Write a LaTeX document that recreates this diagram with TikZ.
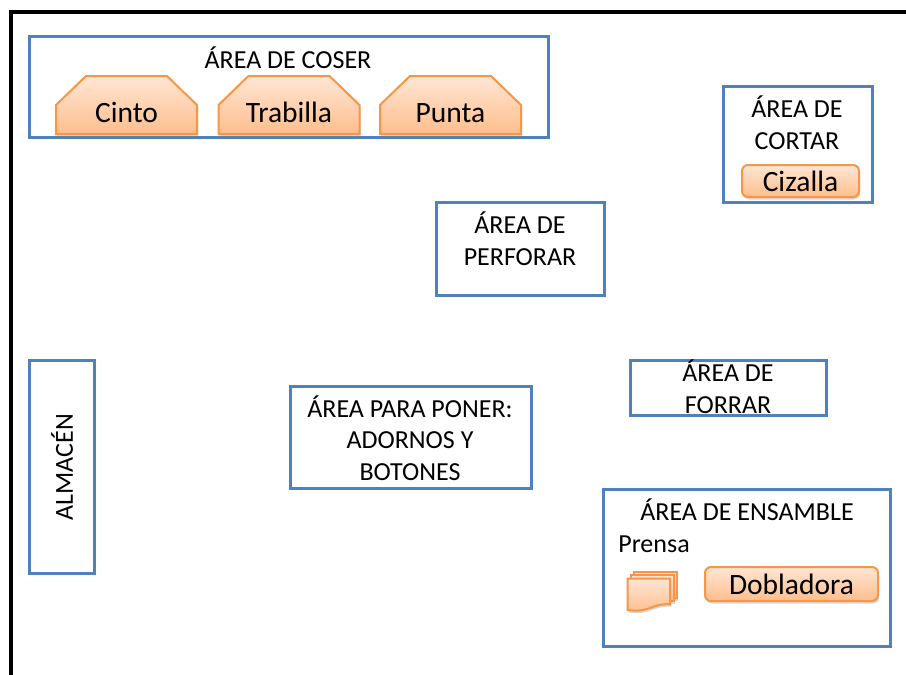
\documentclass[tikz,border=0pt]{standalone}
\usepackage{fontspec}
\setmainfont{Carlito}
\usetikzlibrary{shadows}
\definecolor{areablue}{HTML}{4F81BD}
\definecolor{machedge}{HTML}{F79646}
\definecolor{machtop}{HTML}{FFE6D4}
\definecolor{machbot}{HTML}{FDBE8C}
\tikzset{
  area/.style={draw=areablue,line width=3pt,fill=white,rectangle,align=center,inner sep=0pt,
    font=\fontsize{26}{31.5}\selectfont},
  areatext/.style={align=center,inner sep=0pt,font=\fontsize{26}{31.5}\selectfont},
  machtext/.style={inner sep=0pt,font=\fontsize{29.5}{31}\selectfont},
  mach/.style={draw=machedge,line width=2pt,top color=machtop,bottom color=machbot,
    drop shadow={shadow xshift=1pt,shadow yshift=-2.5pt,opacity=.3}},
  button/.style={mach,machtext,rectangle,rounded corners=6pt},
}
\begin{document}
\begin{tikzpicture}[x=1pt,y=-1pt]
  \useasboundingbox (0,0) rectangle (906,675);

  \coordinate (fa) at (11,675);
  \coordinate (fb) at (11,12);
  \coordinate (fc) at (906,12);
  \draw[line width=3.6pt,line join=miter] (fa) -- (fb) -- (fc);

  % areas
  \begin{scope}[every node/.style={area}]
    \node[minimum width=519pt,minimum height=101pt] (coser)    at (288.5,86.5) {};
    \node[minimum width=149pt,minimum height=116pt] (cortar)   at (797.5,144) {};
    \node[minimum width=168pt,minimum height=93pt]  (perforar) at (520,248.5) {};
    \node[minimum width=65pt,minimum height=213pt]  (almacen)  at (61.5,466.5) {};
    \node[minimum width=241pt,minimum height=102pt] (poner)    at (410.5,437) {};
    \node[minimum width=196pt,minimum height=55pt]  (forrar)   at (728,387.5) {};
    \node[minimum width=287pt,minimum height=157pt] (ensamble) at (746.5,567.5) {};
  \end{scope}

  \node[areatext] (coserlbl)    at (288,58)    {ÁREA DE COSER};
  \node[areatext] (cortarlbl)   at (797,122.5) {ÁREA DE\\CORTAR};
  \node[areatext] (perforarlbl) at (520,238.5) {ÁREA DE\\PERFORAR};
  \node[areatext,rotate=90] (almacenlbl) at (62,467) {ALMACÉN};
  \node[areatext] (ponerlbl)    at (410,438)   {ÁREA PARA PONER:\\ADORNOS Y\\BOTONES};
  \node[areatext] (forrarlbl)   at (728,386.5) {ÁREA DE\\FORRAR};
  \node[areatext] (ensamblelbl) at (747,510)   {ÁREA DE ENSAMBLE};
  \node[areatext] (prensalbl)   at (654,544)   {Prensa};

  % machines
  \foreach \nm/\cx/\txt in {cinto/126.5/Cinto,trabilla/289/Trabilla,punta/450.5/Punta}{
    \path[mach] (\cx-70.5,134) -- (\cx-70.5,105) -- (\cx-40.5,76) -- (\cx+40.5,76)
      -- (\cx+70.5,105) -- (\cx+70.5,134) -- cycle;
    \node[machtext,anchor=base] (\nm) at (\cx,122.5) {\txt};
  }
  \node[button,minimum width=117pt,minimum height=32pt] (cizalla)   at (800.5,181) {Cizalla};
  \node[button,minimum width=173pt,minimum height=34pt] (dobladora) at (791.5,584) {Dobladora};

  % prensa
  \path[mach] (634,572) rectangle (677,598);
  \path[mach] (630.5,575) rectangle (673.5,601);
  \path[mach] (627.5,578.5) -- (670,578.5) -- (670,604) .. controls (650,604) and (650,613) .. (627.5,610) -- cycle;
\end{tikzpicture}
\end{document}
